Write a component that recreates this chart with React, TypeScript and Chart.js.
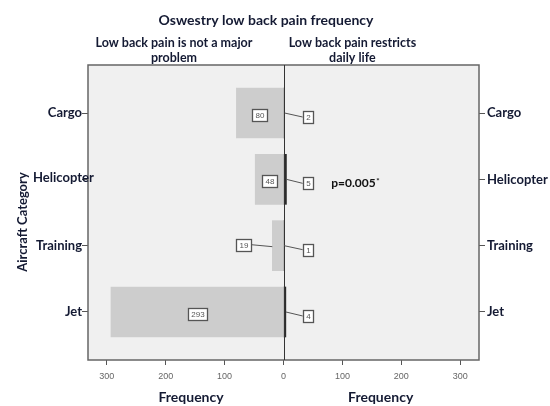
import { useEffect, useRef } from 'react';
import { Chart, registerables } from 'chart.js';

Chart.register(...registerables);

const CATEGORIES = ['Cargo', 'Helicopter', 'Training', 'Jet'];
const NOT_MAJOR = [80, 48, 19, 293];
const RESTRICTS = [2, 5, 1, 4];
const FREQ_TICKS = [-300, -200, -100, 0, 100, 200, 300];
const CATEGORY_INDEX = [0, 1, 2, 3];
const TITLE = 'Oswestry low back pain frequency';
const LEFT_HEADER = ['Low back pain is not a major', 'problem'];
const RIGHT_HEADER = ['Low back pain restricts', 'daily life'];
const X_TITLE = 'Frequency';
const Y_TITLE = 'Aircraft Category';
const P_TEXT = 'p=0.005';

const TEXT = '#141a33';
const FONT = 'Lato, "Liberation Sans", sans-serif';
const BOX_FONT = '8px "Liberation Sans", Arial, sans-serif';

function drawBox(ctx: CanvasRenderingContext2D, text: string, cx: number, cy: number) {
  ctx.font = BOX_FONT;
  const w = Math.round(ctx.measureText(text).width + 6);
  const h = 12;
  const l = Math.round(cx - w / 2) + 0.5;
  const t = Math.round(cy - h / 2) + 0.5;
  ctx.fillStyle = '#ffffff';
  ctx.fillRect(l, t, w, h);
  ctx.strokeStyle = '#555555';
  ctx.lineWidth = 1.3;
  ctx.strokeRect(l, t, w, h);
  ctx.fillStyle = '#555555';
  ctx.textAlign = 'center';
  ctx.textBaseline = 'middle';
  ctx.fillText(text, l + w / 2, t + h / 2 + 0.5);
}

const decor = {
  id: 'decor',
  beforeDraw(chart: any) {
    const { ctx, chartArea: a } = chart;
    ctx.save();
    ctx.fillStyle = '#ffffff';
    ctx.fillRect(0, 0, chart.width, chart.height);
    ctx.fillStyle = '#f0f0f0';
    ctx.fillRect(a.left, a.top, a.right - a.left, a.bottom - a.top);
    ctx.restore();
  },
  afterDatasetsDraw(chart: any) {
    const { ctx, chartArea: a } = chart;
    const xs = chart.scales.x;
    const ys = chart.scales.y;
    ctx.save();
    ctx.strokeStyle = '#666666';
    ctx.lineWidth = 1.5;
    ctx.strokeRect(a.left, a.top, a.right - a.left, a.bottom - a.top);
    const x0 = Math.round(xs.getPixelForValue(0)) + 0.5;
    ctx.strokeStyle = '#333333';
    ctx.lineWidth = 1;
    ctx.beginPath();
    ctx.moveTo(x0, a.top);
    ctx.lineTo(x0, a.bottom);
    ctx.stroke();

    CATEGORY_INDEX.forEach((i) => {
      const cy = ys.getPixelForValue(i);
      const v = NOT_MAJOR[i];
      if (v >= 40) {
        drawBox(ctx, String(v), xs.getPixelForValue(-v / 2), cy + 2);
      } else {
        const bx = xs.getPixelForValue(-(v + 49));
        const endX = xs.getPixelForValue(-v);
        ctx.font = BOX_FONT;
        const w = Math.round(ctx.measureText(String(v)).width + 6);
        ctx.strokeStyle = '#555555';
        ctx.lineWidth = 1;
        ctx.beginPath();
        ctx.moveTo(endX, cy + 1);
        ctx.lineTo(bx + w / 2, cy - 1);
        ctx.stroke();
        drawBox(ctx, String(v), bx, cy - 1);
      }
      const rv = RESTRICTS[i];
      const rbx = xs.getPixelForValue(41);
      const rby = cy + 4;
      ctx.font = BOX_FONT;
      const rw = Math.round(ctx.measureText(String(rv)).width + 6);
      ctx.strokeStyle = '#555555';
      ctx.lineWidth = 1;
      ctx.beginPath();
      ctx.moveTo(xs.getPixelForValue(rv), cy);
      ctx.lineTo(rbx - rw / 2, rby);
      ctx.stroke();
      drawBox(ctx, String(rv), rbx, rby);
    });

    const py = ys.getPixelForValue(1) + 4;
    const px = xs.getPixelForValue(81);
    ctx.fillStyle = '#111111';
    ctx.font = `bold 12px ${FONT}`;
    ctx.textAlign = 'left';
    ctx.textBaseline = 'middle';
    ctx.fillText(P_TEXT, px, py);
    const pw = ctx.measureText(P_TEXT).width;
    ctx.font = `bold 8px ${FONT}`;
    ctx.fillText('*', px + pw + 0.5, py - 2);
    ctx.restore();
  },
  afterDraw(chart: any) {
    const { ctx, chartArea: a } = chart;
    const xs = chart.scales.x;
    const ys = chart.scales.y;
    ctx.save();
    ctx.fillStyle = TEXT;
    ctx.textBaseline = 'middle';
    // left category labels (the Helicopter label sits shifted right in the original)
    ctx.font = `bold 13px ${FONT}`;
    CATEGORY_INDEX.forEach((i) => {
      const cy = ys.getPixelForValue(i);
      if (i === 1) {
        ctx.textAlign = 'left';
        ctx.fillText(CATEGORIES[i], 33, cy - 2);
      } else {
        ctx.textAlign = 'right';
        ctx.fillText(CATEGORIES[i], a.left - 6, cy);
      }
    });
    ctx.textAlign = 'center';
    ctx.font = `bold 14px ${FONT}`;
    ctx.fillText(TITLE, 266, 20);
    ctx.font = `bold 12.5px ${FONT}`;
    const lx = xs.getPixelForValue(-186);
    const rx = xs.getPixelForValue(117);
    LEFT_HEADER.forEach((t, k) => ctx.fillText(t, lx, 43 + k * 14.5));
    RIGHT_HEADER.forEach((t, k) => ctx.fillText(t, rx, 43 + k * 14.5));
    ctx.font = `bold 14px ${FONT}`;
    ctx.fillText(X_TITLE, xs.getPixelForValue(-157), a.bottom + 37);
    ctx.fillText(X_TITLE, xs.getPixelForValue(165), a.bottom + 37);
    ctx.translate(23, 222);
    ctx.rotate(-Math.PI / 2);
    ctx.font = `bold 13px ${FONT}`;
    ctx.fillText(Y_TITLE, 0, 0);
    ctx.restore();
  },
};

export default function App() {
  const ref = useRef<HTMLCanvasElement | null>(null);
  useEffect(() => {
    if (!ref.current) return;
    const yAxis = (position: 'left' | 'right', width: number, showLabels: boolean) => ({
      type: 'linear' as const,
      position,
      min: -0.724,
      max: 3.724,
      reverse: true,
      offset: false,
      afterBuildTicks: (s: any) => {
        s.ticks = CATEGORY_INDEX.map((v) => ({ value: v }));
      },
      afterFit: (s: any) => {
        s.width = width;
      },
      border: { display: false },
      grid: { drawOnChartArea: false, drawTicks: true, tickLength: 6, color: '#555555', offset: false },
      ticks: {
        display: showLabels,
        padding: 2,
        color: TEXT,
        font: { family: FONT, size: 13, weight: 'bold' as const },
        callback: (v: any) => CATEGORIES[v] ?? '',
      },
    });
    const chart = new Chart(ref.current, {
      type: 'bar',
      data: {
        datasets: [
          {
            label: 'Low back pain is not a major problem',
            data: NOT_MAJOR.map((v, i) => ({ x: -v, y: i })),
            backgroundColor: '#cdcdcd',
            borderWidth: 0,
            barThickness: 50,
            grouped: false,
            yAxisID: 'y',
          },
          {
            label: 'Low back pain restricts daily life',
            data: RESTRICTS.map((v, i) => ({ x: v, y: i })),
            backgroundColor: '#2b2b2b',
            borderWidth: 0,
            barThickness: 50,
            grouped: false,
            yAxisID: 'y',
          },
        ],
      },
      options: {
        indexAxis: 'y',
        animation: false,
        responsive: false,
        layout: { padding: { top: 65, left: 0, right: 0, bottom: 0 } },
        plugins: { legend: { display: false }, tooltip: { enabled: false }, title: { display: false } },
        scales: {
          x: {
            type: 'linear',
            min: -332,
            max: 332,
            afterBuildTicks: (s: any) => {
              s.ticks = FREQ_TICKS.map((v) => ({ value: v }));
            },
            afterFit: (s: any) => {
              s.height = 46;
            },
            border: { display: false },
            grid: { drawOnChartArea: false, drawTicks: true, tickLength: 5, color: '#555555' },
            ticks: {
              padding: 6,
              color: '#666666',
              font: { family: '"Liberation Sans", Arial, sans-serif', size: 9 },
              callback: (v: any) => String(Math.abs(Number(v))),
            },
          },
          y: yAxis('left', 88, false),
          y2: yAxis('right', 71, true),
        },
      },
      plugins: [decor],
    });
    return () => chart.destroy();
  }, []);
  return (
    <div style={{ position: 'absolute', left: 0, top: 0, width: 550, height: 406, background: '#fff' }}>
      <canvas ref={ref} width={550} height={406} style={{ width: 550, height: 406, display: 'block' }} />
    </div>
  );
}
